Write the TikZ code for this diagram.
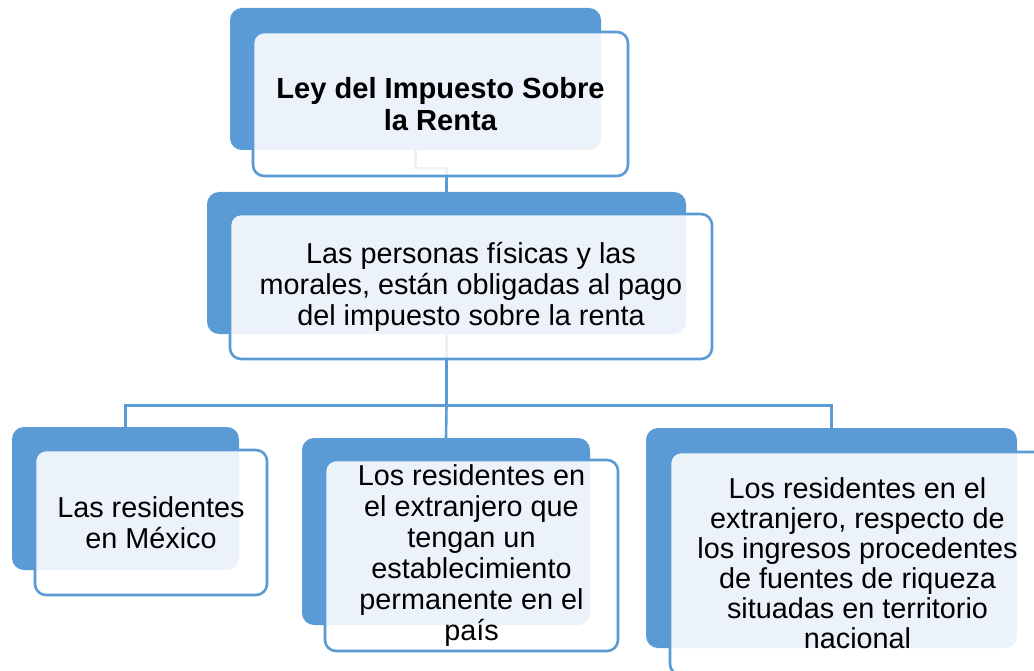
\documentclass[tikz,border=0pt]{standalone}
\usepackage{fontspec}
\setmainfont{Liberation Sans}
\definecolor{accblue}{HTML}{5B9BD5}
\begin{document}
\begin{tikzpicture}[x=1pt,y=-1pt,
  backbox/.style={fill=accblue, draw=none, rounded corners=12pt, inner sep=0pt},
  backshape/.style={draw=none, fill=none, inner sep=0pt},
  frontbox/.style={draw=accblue, line width=2.6pt, fill=white, fill opacity=0.88, text opacity=1,
    rounded corners=11pt, inner sep=0pt, align=center, text=black,
    font=\fontsize{28.8}{31}\selectfont},
  conn/.style={draw=accblue, line width=2.6pt}]
\useasboundingbox (0,0) rectangle (1034,671);
\clip (0,0) rectangle (1034,671);
% back rectangle outlines (for naming)
\node[backshape, minimum width=371pt, minimum height=142pt] (b1) at (415.5,79) {};
\node[backshape, minimum width=479pt, minimum height=142pt] (b2) at (446.5,263) {};
\node[backshape, minimum width=227pt, minimum height=143pt] (b3) at (125.5,498.5) {};
\node[backshape, minimum width=288pt, minimum height=187pt] (b4) at (446,531.5) {};
\node[backshape, minimum width=371pt, minimum height=220pt] (b5) at (831.5,538) {};
% connectors (behind the boxes)
\path[conn] (b1.south) -- ++(0,18) -| (b2.north);
\path[conn] (b2.south) -- ++(0,71) coordinate (j);
\path[conn] (j) -| (b3.north);
\path[conn] (j) -- (b4.north);
\path[conn] (j) -| (b5.north);
% filled back rectangles above connectors
\node[backbox, minimum width=371pt, minimum height=142pt] at (b1) {};
\node[backbox, minimum width=479pt, minimum height=142pt] at (b2) {};
\node[backbox, minimum width=227pt, minimum height=143pt] at (b3) {};
\node[backbox, minimum width=288pt, minimum height=187pt] at (b4) {};
\node[backbox, minimum width=371pt, minimum height=220pt] at (b5) {};
% front boxes with text
\node[frontbox, minimum width=375pt, minimum height=144pt,
  font=\fontsize{29.1}{32}\selectfont\bfseries] (f1) at (440.5,104)
  {Ley del Impuesto Sobre\\la Renta};
\node[frontbox, minimum width=482pt, minimum height=145pt] (f2) at (471,286.5)
  {Las personas físicas y las\\morales, están obligadas al pago\\del impuesto sobre la renta};
\node[frontbox, minimum width=232pt, minimum height=145pt] (f3) at (151,522.5)
  {Las residentes\\en México};
\node[frontbox, minimum width=293pt, minimum height=191pt] (f4) at (471.5,555.5)
  {Los residentes en\\el extranjero que\\tengan un\\establecimiento\\permanente en el\\país};
\node[frontbox, minimum width=375pt, minimum height=223pt, font=\fontsize{28.8}{30}\selectfont] (f5) at (857.5,563.5)
  {Los residentes en el\\extranjero, respecto de\\los ingresos procedentes\\de fuentes de riqueza\\situadas en territorio\\nacional};
\end{tikzpicture}
\end{document}
